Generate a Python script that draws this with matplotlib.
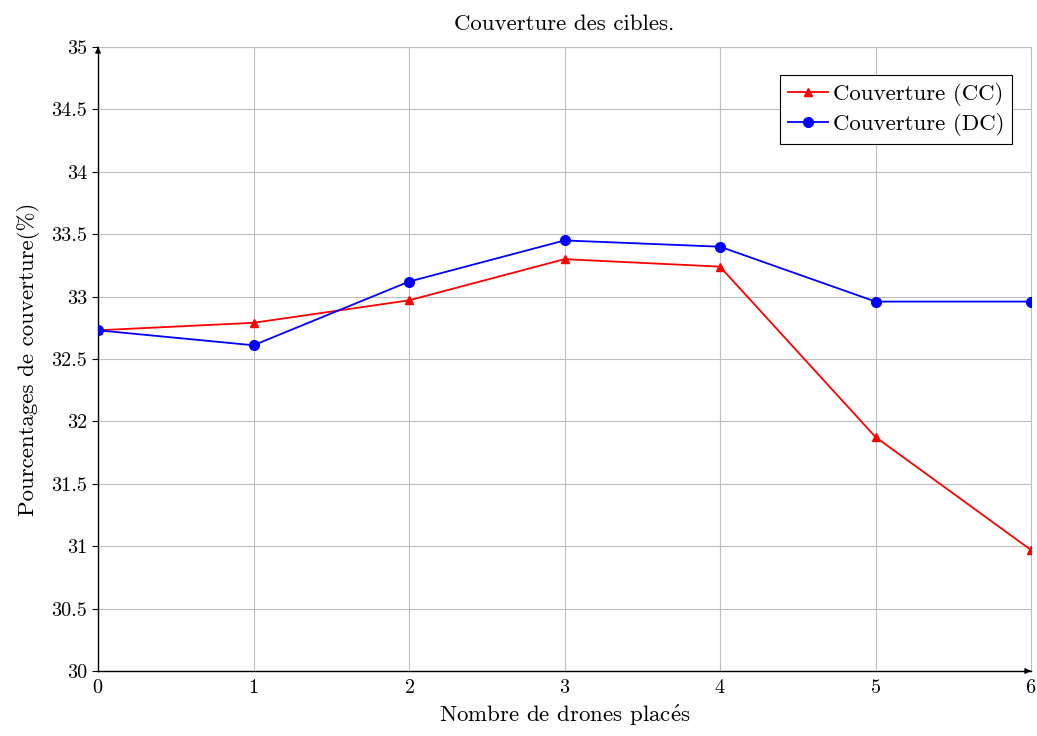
import matplotlib
matplotlib.use("Agg")
import matplotlib.pyplot as plt

plt.rcParams['font.family'] = ['cmr10', 'DejaVu Serif']
plt.rcParams['mathtext.fontset'] = 'cm'
plt.rcParams['axes.formatter.use_mathtext'] = True

x = [0, 1, 2, 3, 4, 5, 6]
cc = [32.73, 32.79, 32.97, 33.30, 33.24, 31.875, 30.97]
dc = [32.73, 32.61, 33.12, 33.45, 33.40, 32.96, 32.96]
yticks = [30, 30.5, 31, 31.5, 32, 32.5, 33, 33.5, 34, 34.5, 35]
ytick_labels = ['30', '30.5', '31', '31.5', '32', '32.5', '33', '33.5', '34', '34.5', '35']

fig = plt.figure(figsize=(10.37, 7.36), dpi=100)
ax = fig.add_axes([98/1037, 65/736, (1031-98)/1037, (671-47)/736])

ax.plot(x, cc, color='red', marker='^', markersize=6, linewidth=1.3, label='Couverture (CC)', zorder=3)
ax.plot(x, dc, color='blue', marker='o', markersize=7, linewidth=1.3, label='Couverture (DC)', zorder=3)

ax.set_xlim(0, 6)
ax.set_ylim(30, 35)
ax.set_xticks(x)
ax.set_yticks(yticks)
ax.set_yticklabels(ytick_labels)
ax.grid(True, color='#bfbfbf', linewidth=0.8)
ax.set_axisbelow(True)

for s in ['top', 'right']:
    ax.spines[s].set_color('#bfbfbf')
    ax.spines[s].set_linewidth(0.8)
for s in ['left', 'bottom']:
    ax.spines[s].set_color('black')
    ax.spines[s].set_linewidth(1.0)

ax.tick_params(axis='both', direction='out', length=4, width=0.8, labelsize=14.5, pad=4)
ax.tick_params(axis='x', length=0, pad=6)

# arrows on axes
ax.annotate('', xy=(6.0, 30), xytext=(5.97, 30), xycoords='data',
            arrowprops=dict(arrowstyle='-|>', color='black', lw=1.0, mutation_scale=8), annotation_clip=False)
ax.annotate('', xy=(0, 35.0), xytext=(0, 34.97), xycoords='data',
            arrowprops=dict(arrowstyle='-|>', color='black', lw=1.0, mutation_scale=8), annotation_clip=False)

ax.set_title('Couverture des cibles.', fontsize=16.5, pad=12)
ax.set_xlabel(r'Nombre de drones plac$\mathrm{\acute{e}}$s', fontsize=16.5, labelpad=4)
ax.set_ylabel('Pourcentages de couverture(%)', fontsize=16.5, labelpad=8)

leg = ax.legend(loc='upper right', bbox_to_anchor=(0.98, 0.955), fontsize=16.5, frameon=True,
                fancybox=False, edgecolor='black', framealpha=1, borderpad=0.35,
                handlelength=1.75, handletextpad=0.2, labelspacing=0.3, borderaxespad=0)
leg.get_frame().set_linewidth(0.8)

fig.savefig('out.png', dpi=100)
